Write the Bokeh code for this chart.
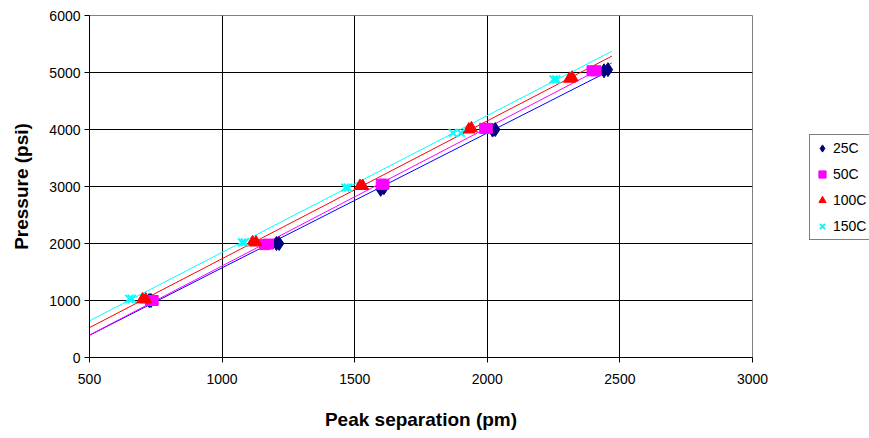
import numpy as np
from bokeh.plotting import figure
from bokeh.models import Legend, LegendItem, FixedTicker, Range1d
from bokeh.embed import file_html
from bokeh.resources import INLINE

# Data (peak separation in pm, pressure in psi)
x_25c = [725, 732, 1205, 1215, 1598, 1610, 2020, 2030, 2440, 2455]
y_25c = [1000, 1000, 2000, 2000, 2950, 2980, 3990, 4000, 5030, 5050]

x_50c = [730, 740, 1160, 1175, 1600, 1610, 1990, 2000, 2395, 2410]
y_50c = [1000, 1000, 1980, 1990, 3040, 3040, 4020, 4020, 5030, 5030]

x_100c = [700, 712, 1115, 1128, 1520, 1530, 1930, 1940, 2310, 2320]
y_100c = [1020, 1020, 2020, 2020, 3010, 3010, 4000, 4020, 4890, 4910]

x_150c = [650, 660, 1075, 1085, 1465, 1475, 1870, 1900, 2250, 2260]
y_150c = [1030, 1030, 2020, 2020, 2980, 2980, 3940, 3940, 4880, 4880]

series_names = ["25C", "50C", "100C", "150C"]
trend_x = [500, 2470]
x_ticks = [500, 1000, 1500, 2000, 2500, 3000]
y_ticks = [0, 1000, 2000, 3000, 4000, 5000, 6000]

FONT = "Liberation Sans"

p = figure(frame_width=663, frame_height=342, output_backend="svg", toolbar_location=None,
           min_border_left=89, min_border_right=117, min_border_top=15, min_border_bottom=73,
           x_range=Range1d(500, 3000), y_range=Range1d(0, 6000))
p.background_fill_color = "white"
p.border_fill_color = "white"
p.outline_line_color = "#808080"
p.outline_line_width = 1

for g in (p.xgrid, p.ygrid):
    g.grid_line_color = "black"
    g.grid_line_width = 1

p.xaxis.ticker = FixedTicker(ticks=x_ticks)
p.yaxis.ticker = FixedTicker(ticks=y_ticks)
for ax in (p.xaxis, p.yaxis):
    ax.axis_line_color = "black"
    ax.major_tick_line_color = "black"
    ax.minor_tick_line_color = None
    ax.major_tick_in = 0
    ax.major_tick_out = 5
    ax.major_label_text_font = FONT
    ax.major_label_text_font_size = "14px"
    ax.major_label_text_color = "black"
    ax.axis_label_text_font = FONT
    ax.axis_label_text_font_style = "bold"
    ax.axis_label_text_font_size = "19px"
    ax.axis_label_text_color = "black"

p.xaxis.axis_label = "Peak separation (pm)"
p.yaxis.axis_label = "Pressure (psi)"
p.xaxis.major_label_standoff = 11
p.xaxis.axis_label_standoff = 22
p.yaxis.major_label_standoff = 4
p.yaxis.axis_label_standoff = 14

series = [
    (x_25c, y_25c, "diamond", "#000080", "#0000FF", 14),
    (x_50c, y_50c, "square", "#FF00FF", "#FF00FF", 10),
    (x_100c, y_100c, "triangle", "#FF0000", "#FF0000", 12),
    (x_150c, y_150c, "x", "#00FFFF", "#00FFFF", 11),
]

for name, (xs, ys, marker, mcol, lcol, size) in zip(series_names, series):
    k, b = np.polyfit(np.array(xs, float), np.array(ys, float), 1)
    tx = np.array(trend_x, float)
    p.line(tx, k * tx + b, line_color=lcol, line_width=1)

items = []
for name, (xs, ys, marker, mcol, lcol, size) in zip(series_names, series):
    if marker == "x":
        r = p.scatter(xs, ys, marker=marker, size=size, line_color=mcol, line_width=2)
    else:
        r = p.scatter(xs, ys, marker=marker, size=size, fill_color=mcol, line_color=mcol)
    items.append(LegendItem(label=name, renderers=[r]))

legend = Legend(items=items, location=(57, 117))
legend.label_text_font = FONT
legend.label_text_font_size = "14px"
legend.label_text_color = "black"
legend.border_line_color = "black"
legend.border_line_width = 1
legend.background_fill_color = "white"
legend.spacing = 6
legend.padding = 3
legend.glyph_width = 18
legend.glyph_height = 20
legend.label_height = 20
legend.label_standoff = 2
legend.margin = 0
p.add_layout(legend, "right")

with open("out.html", "w") as f:
    f.write(file_html(p, INLINE))
